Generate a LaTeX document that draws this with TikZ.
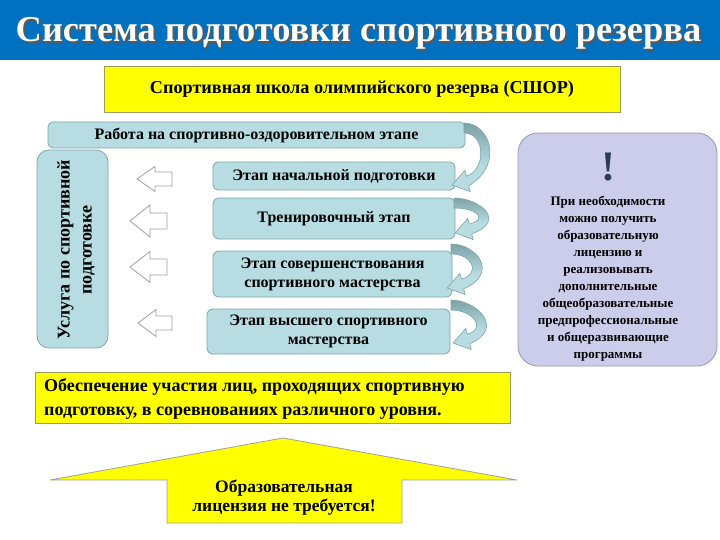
\documentclass[tikz,border=0pt]{standalone}
\usepackage{fontspec}
\setmainfont{Liberation Serif}
\setsansfont{Liberation Serif}
\usetikzlibrary{calc}
\definecolor{titleblue}{HTML}{0070C0}
\definecolor{tealfill}{HTML}{B7DDE2}
\definecolor{tealdraw}{HTML}{7FA6AB}
\definecolor{tealdark}{HTML}{7A9EA2}
\definecolor{lav}{HTML}{CCCCEB}
\definecolor{lavdraw}{HTML}{9A9AAE}
\definecolor{yel}{HTML}{FFFF00}
\definecolor{yeldraw}{HTML}{9C9C5A}
\definecolor{hollowdraw}{HTML}{A0A0A0}
\definecolor{exclcol}{HTML}{2E3B55}
\newcommand{\curvarrow}[4]{%
\begin{scope}[shift={(#1,#2)}]
\pgfmathsetmacro{\dxx}{#3}\pgfmathsetmacro{\hh}{#4}
\def\arrowpath{(\dxx,-\hh) .. controls ({\dxx+25},-\hh) and (53,{-0.35*\hh}) .. (16.75,0.84) -- (18.2,6.6) -- (0,0) -- (12.8,-14.6) -- (14.25,-8.84) .. controls (34,-14.3) and ({\dxx+22},{-\hh+10}) .. (\dxx,{-\hh+10}) -- cycle}
\begin{scope}
\clip \arrowpath;
\fill[tealfill] (-5,{-\hh-5}) rectangle (70,10);
\shade[top color=tealdark, bottom color=tealfill] (-5,{-\hh-2}) rectangle (70,{-0.3*\hh});
\end{scope}
\draw[tealdraw, line width=0.6pt] \arrowpath;
\end{scope}}
\newcommand{\hollowarrow}[6]{%
\draw[hollowdraw, fill=white, line width=0.8pt] (#1,#4) -- (#2,{#4-#5}) -- (#2,{#4-#6}) -- (#3,{#4-#6}) -- (#3,{#4+#6}) -- (#2,{#4+#6}) -- (#2,{#4+#5}) -- cycle;}
\newcommand{\titletext}{Система подготовки спортивного резерва}
\newcommand{\myfont}[2]{\rmfamily\bfseries\fontsize{#1}{#2}\selectfont}
\begin{document}
\begin{tikzpicture}[x=1pt,y=-1pt,
  tealbox/.style={draw=tealdraw, fill=tealfill, line width=0.8pt, inner sep=0pt, align=center},
  yelbox/.style={draw=yeldraw, fill=yel, line width=0.8pt, inner sep=0pt, align=center}]
\useasboundingbox (0,0) rectangle (720,540);
\fill[white] (0,0) rectangle (720,540);
% title
\node[fill=titleblue, minimum width=720pt, minimum height=60pt, inner sep=0pt, anchor=north west] (bar) at (0,0) {};
\node[anchor=base, text=white, font={\myfont{36.4}{40}}] (title) at (358.5,42) {\makebox[0pt][l]{\hspace{1.8pt}\raisebox{-1.8pt}{\color{black!65}\titletext}}\titletext};
% school
\node[yelbox, minimum width=516pt, minimum height=46pt, font={\myfont{18.2}{21}}] (school) at (362,89) {Спортивная школа олимпийского резерва (СШОР)};
% work
\node[tealbox, rounded corners=5pt, minimum width=417pt, minimum height=26pt, font={\myfont{16}{19}}] (work) at (256.5,135) {Работа на спортивно-оздоровительном этапе};
% stages
\node[tealbox, rounded corners=5pt, minimum width=242pt, minimum height=28pt, font={\myfont{16}{19}}] (s1) at (334,176) {Этап начальной подготовки};
\node[tealbox, rounded corners=6pt, minimum width=242pt, minimum height=41pt, font={\myfont{16}{19}}] (s2) at (334,218.5) {Тренировочный этап};
\node[tealbox, rounded corners=6pt, minimum width=239pt, minimum height=46pt, font={\myfont{16}{19}}] (s3) at (332.5,274) {Этап совершенствования\\спортивного мастерства};
\node[tealbox, rounded corners=6pt, minimum width=243pt, minimum height=45pt, font={\myfont{16}{19}}] (s4) at (328.5,331.5) {Этап высшего спортивного\\мастерства};
% curved arrows
\curvarrow{452}{185}{12}{62}
\curvarrow{455}{233}{-1}{35}
\curvarrow{447}{288}{4}{44}
\curvarrow{453}{343}{-2}{43}
% vertical box
\node[tealbox, rounded corners=12pt, minimum width=71pt, minimum height=198pt] (serv) at (72.5,249) {};
\node[rotate=90, align=center, inner sep=0pt, font={\myfont{18}{22}}] (servtext) at (76,250) {Услуга по спортивной\\подготовке};
% hollow arrows
\hollowarrow{137}{155}{172}{179}{12.5}{7}
\hollowarrow{130}{150}{167}{221}{16}{8}
\hollowarrow{130}{150}{167}{267}{15.5}{8}
\hollowarrow{138}{156}{172}{323}{13.5}{7}
% right box
\node[draw=lavdraw, fill=lav, line width=0.8pt, rounded corners=20pt, minimum width=199pt, minimum height=233pt, inner sep=0pt] (lic) at (617.5,249.5) {};
\node[text=exclcol, inner sep=0pt, font={\myfont{42}{44}}] (excl) at (608,167) {!};
\node[align=center, inner sep=0pt, font={\myfont{13}{17}}] (lictext) at (608,279) {При необходимости\\можно получить\\образовательную\\лицензию и\\реализовывать\\дополнительные\\общеобразовательные\\предпрофессиональные\\и общеразвивающие\\программы};
% bottom box
\node[yelbox, minimum width=475pt, minimum height=51pt] (part) at (272.5,397.5) {};
\node[anchor=west, align=left, inner sep=0pt, font={\myfont{18}{24}}] (parttext) at (44,399) {Обеспечение участия лиц, проходящих спортивную\\подготовку, в соревнованиях различного уровня.};
% up arrow
\draw[draw=hollowdraw, fill=yel, line width=0.8pt] (283,438) -- (517,480) -- (402,480) -- (402,523) -- (167,523) -- (167,480) -- (50,480) -- cycle;
\node[align=center, inner sep=0pt, font={\myfont{17.5}{19.5}}] (nolic) at (284,497.5) {Образовательная\\лицензия не требуется!};
\end{tikzpicture}
\end{document}
